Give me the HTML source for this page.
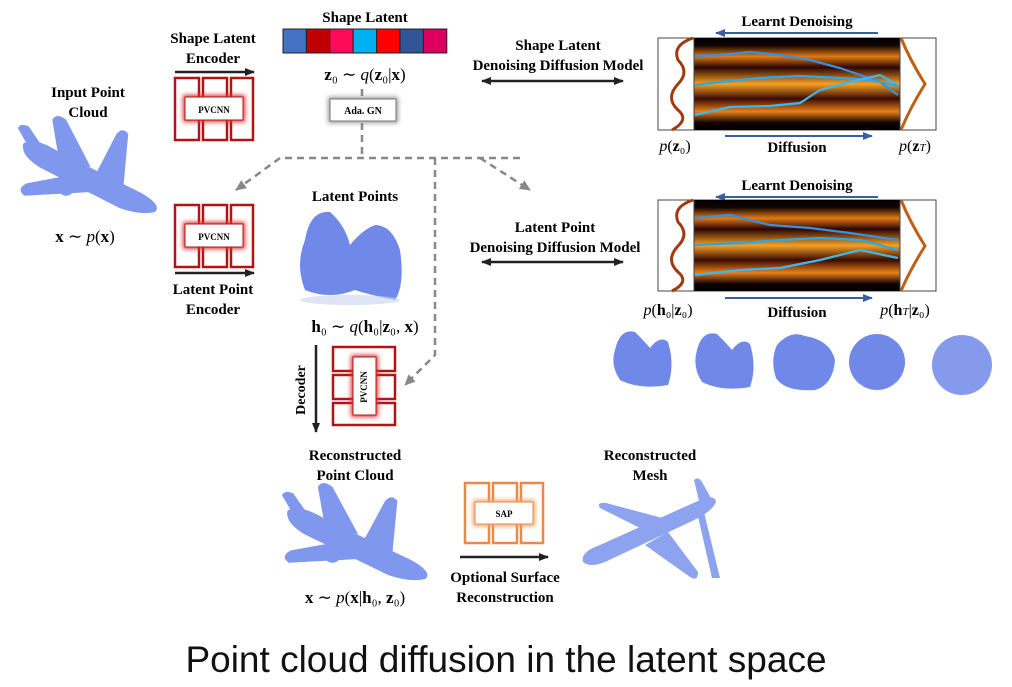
<!DOCTYPE html>
<html><head><meta charset="utf-8"><style>
body{margin:0;background:#fff;width:1012px;height:687px;overflow:hidden;font-family:"Liberation Serif",serif}
svg{position:absolute;left:0;top:0}
</style></head><body>
<svg width="1012" height="687" viewBox="0 0 1012 687" font-family="Liberation Serif, serif">
<defs>
<filter id="gl" x="-30%" y="-30%" width="160%" height="160%"><feGaussianBlur stdDeviation="2.5"/></filter>
<marker id="ah" markerUnits="userSpaceOnUse" markerWidth="10" markerHeight="10" refX="9" refY="5" orient="auto"><path d="M0,1 L10,5 L0,9z" fill="#222"/></marker>
<marker id="ahb" markerUnits="userSpaceOnUse" markerWidth="10" markerHeight="10" refX="9" refY="5" orient="auto"><path d="M0,1 L10,5 L0,9z" fill="#3a5fa0"/></marker>
<marker id="ahg" markerUnits="userSpaceOnUse" markerWidth="12" markerHeight="12" refX="10" refY="6" orient="auto"><path d="M0,1 L11,6 L0,11z" fill="#888"/></marker>
<marker id="ahs" markerUnits="userSpaceOnUse" markerWidth="10" markerHeight="10" refX="1" refY="5" orient="auto"><path d="M10,1 L0,5 L10,9z" fill="#222"/></marker>
<linearGradient id="hm1" x1="0" y1="0" x2="0" y2="1">
<stop offset="0" stop-color="#000"/><stop offset="0.08" stop-color="#100200"/><stop offset="0.2" stop-color="#e07a15"/><stop offset="0.32" stop-color="#2a0500"/><stop offset="0.5" stop-color="#f5a025"/><stop offset="0.66" stop-color="#3a0a00"/><stop offset="0.8" stop-color="#e8801a"/><stop offset="0.92" stop-color="#100200"/><stop offset="1" stop-color="#000"/></linearGradient>
<g id="pv">
<rect x="0" y="0" width="24" height="62" fill="none" stroke="#b01515" stroke-width="2.5"/>
<rect x="28" y="0" width="24" height="62" fill="none" stroke="#b01515" stroke-width="2.5"/>
<rect x="56" y="0" width="22" height="62" fill="none" stroke="#b01515" stroke-width="2.5"/>
<rect x="8" y="17" width="62" height="27" fill="#e03030" filter="url(#gl)"/>
<rect x="10" y="19" width="58" height="23" fill="#fff" stroke="#b01515" stroke-width="1"/>
</g>
<g id="plane" fill="#7f97ec">
<path d="M5,30 Q15,22 40,40 L115,82 Q135,95 128,102 Q115,106 95,98 L20,55 Q2,42 5,30Z"/>
<path d="M38,45 L32,5 Q36,-3 45,5 L68,55 Z"/>
<path d="M55,62 L8,72 Q-2,78 6,85 L85,80 Z"/>
<path d="M70,68 L92,20 Q98,12 103,20 L98,82 Z"/>
<path d="M12,38 L0,14 Q2,8 10,12 L28,42Z"/>
<circle cx="45" cy="78" r="7"/><circle cx="92" cy="52" r="6"/>
</g>
</defs>

<text x="365" y="22" text-anchor="middle" font-weight="bold" font-size="15">Shape Latent</text>
<g stroke="#222" stroke-width="1">
<rect x="283" y="29" width="23.4" height="24" fill="#4472c4"/>
<rect x="306.4" y="29" width="23.4" height="24" fill="#c00000"/>
<rect x="329.8" y="29" width="23.4" height="24" fill="#ff0a5a"/>
<rect x="353.2" y="29" width="23.4" height="24" fill="#00b0f0"/>
<rect x="376.6" y="29" width="23.4" height="24" fill="#ff0000"/>
<rect x="400" y="29" width="23.4" height="24" fill="#2f5597"/>
<rect x="423.4" y="29" width="23.4" height="24" fill="#dc0060"/>
</g>
<text x="365" y="80" text-anchor="middle" font-size="17"><tspan font-weight="bold">z</tspan>₀ ∼ <tspan font-style="italic">q</tspan>(<tspan font-weight="bold">z</tspan>₀|<tspan font-weight="bold">x</tspan>)</text>

<rect x="328" y="97" width="70" height="26" fill="#999" filter="url(#gl)"/>
<rect x="330" y="99" width="66" height="22" fill="#fff" stroke="#777"/>
<text x="363" y="114" text-anchor="middle" font-size="10" font-weight="bold">Ada. GN</text>

<g stroke="#888" stroke-width="2.5" stroke-dasharray="7,5" fill="none">
<path d="M362,89 L362,97"/>
<path d="M362,123 L362,158"/>
<path d="M520,158 L280,158 L236,190" marker-end="url(#ahg)"/>
<path d="M480,158 L530,190" marker-end="url(#ahg)"/>
<path d="M435,158 L435,355 L405,385" marker-end="url(#ahg)"/>
</g>

<text x="213" y="43" text-anchor="middle" font-weight="bold" font-size="15">Shape Latent</text>
<text x="213" y="63" text-anchor="middle" font-weight="bold" font-size="15">Encoder</text>
<line x1="175" y1="72" x2="254" y2="72" stroke="#222" stroke-width="2.5" marker-end="url(#ah)"/>
<use href="#pv" x="175" y="78"/>
<text x="214" y="113" text-anchor="middle" font-size="9" font-weight="bold">PVCNN</text>

<text x="88" y="97" text-anchor="middle" font-weight="bold" font-size="15">Input Point</text>
<text x="88" y="117" text-anchor="middle" font-weight="bold" font-size="15">Cloud</text>
<use href="#plane" transform="translate(18,115) scale(1.07,0.95)"/>
<text x="85" y="242" text-anchor="middle" font-size="17"><tspan font-weight="bold">x</tspan> ∼ <tspan font-style="italic">p</tspan>(<tspan font-weight="bold">x</tspan>)</text>

<use href="#pv" x="175" y="205"/>
<text x="214" y="240" text-anchor="middle" font-size="9" font-weight="bold">PVCNN</text>
<line x1="175" y1="273" x2="254" y2="273" stroke="#222" stroke-width="2.5" marker-end="url(#ah)"/>
<text x="213" y="294" text-anchor="middle" font-weight="bold" font-size="15">Latent Point</text>
<text x="213" y="314" text-anchor="middle" font-weight="bold" font-size="15">Encoder</text>

<text x="355" y="201" text-anchor="middle" font-weight="bold" font-size="15">Latent Points</text>
<path d="M305,240 Q310,210 330,212 Q345,225 350,245 Q362,230 375,225 Q392,225 400,250 Q405,285 395,300 Q370,295 355,290 Q330,300 305,290 Q295,265 305,240Z" fill="#7088e8"/>
<ellipse cx="350" cy="300" rx="50" ry="5" fill="#c8d0ee" opacity="0.6"/>
<text x="365" y="332" text-anchor="middle" font-size="17"><tspan font-weight="bold">h</tspan>₀ ∼ <tspan font-style="italic">q</tspan>(<tspan font-weight="bold">h</tspan>₀|<tspan font-weight="bold">z</tspan>₀, <tspan font-weight="bold">x</tspan>)</text>

<line x1="316" y1="345" x2="316" y2="432" stroke="#222" stroke-width="2.5" marker-end="url(#ah)"/>
<text transform="translate(305,390) rotate(-90)" text-anchor="middle" font-weight="bold" font-size="14">Decoder</text>
<g transform="translate(395,347) rotate(90)"><use href="#pv"/></g>
<text transform="translate(367,387) rotate(-90)" text-anchor="middle" font-size="9" font-weight="bold">PVCNN</text>

<text x="355" y="460" text-anchor="middle" font-weight="bold" font-size="15">Reconstructed</text>
<text x="355" y="480" text-anchor="middle" font-weight="bold" font-size="15">Point Cloud</text>
<use href="#plane" transform="translate(282,482) scale(1.12,0.95)"/>
<text x="355" y="603" text-anchor="middle" font-size="17"><tspan font-weight="bold">x</tspan> ∼ <tspan font-style="italic">p</tspan>(<tspan font-weight="bold">x</tspan>|<tspan font-weight="bold">h</tspan>₀, <tspan font-weight="bold">z</tspan>₀)</text>

<g stroke="#e8894a" stroke-width="2.5" fill="none">
<rect x="465" y="483" width="24" height="60"/><rect x="493" y="483" width="24" height="60"/><rect x="521" y="483" width="22" height="60"/>
</g>
<rect x="473" y="500" width="62" height="26" fill="#f0a060" filter="url(#gl)"/>
<rect x="475" y="502" width="58" height="22" fill="#fff" stroke="#e8894a"/>
<text x="504" y="517" text-anchor="middle" font-size="9" font-weight="bold">SAP</text>
<line x1="460" y1="557" x2="548" y2="557" stroke="#222" stroke-width="2.5" marker-end="url(#ah)"/>
<text x="505" y="582" text-anchor="middle" font-weight="bold" font-size="15">Optional Surface</text>
<text x="505" y="602" text-anchor="middle" font-weight="bold" font-size="15">Reconstruction</text>

<text x="650" y="460" text-anchor="middle" font-weight="bold" font-size="15">Reconstructed</text>
<text x="650" y="480" text-anchor="middle" font-weight="bold" font-size="15">Mesh</text>
<g fill="#8ea3f0">
<path d="M583,562 Q580,552 600,545 L700,500 Q715,494 716,502 Q712,512 690,522 L605,562 Q590,568 583,562Z"/>
<path d="M640,528 L600,508 Q596,502 606,503 L670,520Z"/>
<path d="M645,545 L690,577 Q698,582 698,572 L668,532Z"/>
<path d="M700,505 L694,480 Q698,476 702,482 L712,500Z"/>
<path d="M703,508 L720,578 L712,578 L697,512Z"/>
</g>

<line x1="482" y1="81" x2="623" y2="81" stroke="#222" stroke-width="2.5" marker-start="url(#ahs)" marker-end="url(#ah)"/>
<text x="558" y="50" text-anchor="middle" font-weight="bold" font-size="15">Shape Latent</text>
<text x="558" y="70" text-anchor="middle" font-weight="bold" font-size="15">Denoising Diffusion Model</text>
<line x1="482" y1="262" x2="623" y2="262" stroke="#222" stroke-width="2.5" marker-start="url(#ahs)" marker-end="url(#ah)"/>
<text x="555" y="232" text-anchor="middle" font-weight="bold" font-size="15">Latent Point</text>
<text x="555" y="252" text-anchor="middle" font-weight="bold" font-size="15">Denoising Diffusion Model</text>

<text x="797" y="26" text-anchor="middle" font-weight="bold" font-size="15">Learnt Denoising</text>
<line x1="878" y1="33" x2="716" y2="33" stroke="#3a5fa0" stroke-width="2" marker-end="url(#ahb)"/>
<rect x="658" y="38" width="278" height="92" fill="#fff" stroke="#444"/>
<rect x="694" y="38" width="206" height="92" fill="url(#hm1)"/>
<g fill="none" stroke-width="2.2">
<polyline points="695,56 720,55 750,52 780,55 810,60 840,68 860,75 880,82 898,95" stroke="#3c8ee0"/>
<polyline points="695,85 720,82 760,78 800,76 840,78 870,80 898,86" stroke="#2ca8e8"/>
<polyline points="695,115 730,107 770,106 800,103 820,90 850,82 880,75 898,85" stroke="#3cb8f0"/>
</g>
<path d="M693,38 Q672,45 678,60 Q690,72 678,84 Q665,98 678,110 Q690,120 672,130" fill="none" stroke="#a03a10" stroke-width="3"/>
<path d="M901,38 Q910,60 925,84 Q910,108 901,130" fill="none" stroke="#c06015" stroke-width="3"/>
<line x1="694" y1="38" x2="694" y2="130" stroke="#444"/><line x1="900" y1="38" x2="900" y2="130" stroke="#444"/>
<line x1="725" y1="136" x2="872" y2="136" stroke="#3a5fa0" stroke-width="2" marker-end="url(#ahb)"/>
<text x="797" y="152" text-anchor="middle" font-weight="bold" font-size="15">Diffusion</text>
<text x="675" y="151" text-anchor="middle" font-size="16"><tspan font-style="italic">p</tspan>(<tspan font-weight="bold">z</tspan>₀)</text>
<text x="915" y="151" text-anchor="middle" font-size="16"><tspan font-style="italic">p</tspan>(<tspan font-weight="bold">z</tspan><tspan font-size="11" font-style="italic">T</tspan>)</text>

<text x="797" y="190" text-anchor="middle" font-weight="bold" font-size="15">Learnt Denoising</text>
<line x1="878" y1="197" x2="716" y2="197" stroke="#3a5fa0" stroke-width="2" marker-end="url(#ahb)"/>
<rect x="658" y="200" width="278" height="91" fill="#fff" stroke="#444"/>
<rect x="694" y="200" width="206" height="91" fill="url(#hm1)"/>
<g fill="none" stroke-width="2.2">
<polyline points="695,218 730,215 770,225 810,228 850,233 898,240" stroke="#3c8ee0"/>
<polyline points="695,245 740,243 780,240 820,238 860,240 898,250" stroke="#2ca8e8"/>
<polyline points="695,275 740,270 780,268 820,260 860,250 898,258" stroke="#3cb8f0"/>
</g>
<path d="M693,200 Q672,207 678,222 Q690,234 678,246 Q665,260 678,272 Q690,282 672,291" fill="none" stroke="#a03a10" stroke-width="3"/>
<path d="M901,200 Q910,222 925,246 Q910,270 901,291" fill="none" stroke="#c06015" stroke-width="3"/>
<line x1="694" y1="200" x2="694" y2="291" stroke="#444"/><line x1="900" y1="200" x2="900" y2="291" stroke="#444"/>
<line x1="725" y1="298" x2="872" y2="298" stroke="#3a5fa0" stroke-width="2" marker-end="url(#ahb)"/>
<text x="797" y="317" text-anchor="middle" font-weight="bold" font-size="15">Diffusion</text>
<text x="668" y="315" text-anchor="middle" font-size="16"><tspan font-style="italic">p</tspan>(<tspan font-weight="bold">h</tspan>₀|<tspan font-weight="bold">z</tspan>₀)</text>
<text x="905" y="315" text-anchor="middle" font-size="16"><tspan font-style="italic">p</tspan>(<tspan font-weight="bold">h</tspan><tspan font-size="11" font-style="italic">T</tspan>|<tspan font-weight="bold">z</tspan>₀)</text>

<g fill="#7088e8">
<path d="M615,350 Q620,328 635,332 Q645,342 650,348 Q660,335 668,342 Q675,365 668,385 Q640,390 620,380 Q610,365 615,350Z"/>
<path d="M697,350 Q702,330 717,334 Q727,344 732,350 Q742,337 750,344 Q757,367 750,387 Q722,392 702,382 Q692,367 697,350Z"/>
<path d="M777,345 Q790,330 805,336 Q830,340 835,360 Q833,385 815,390 Q785,392 776,378 Q770,360 777,345Z"/>
<circle cx="877" cy="362" r="28"/>
<circle cx="962" cy="365" r="30" opacity="0.85"/>
</g>

<text x="506" y="672" text-anchor="middle" font-family="Liberation Sans, sans-serif" font-size="37" fill="#111">Point cloud diffusion in the latent space</text>
</svg>
</body></html>
